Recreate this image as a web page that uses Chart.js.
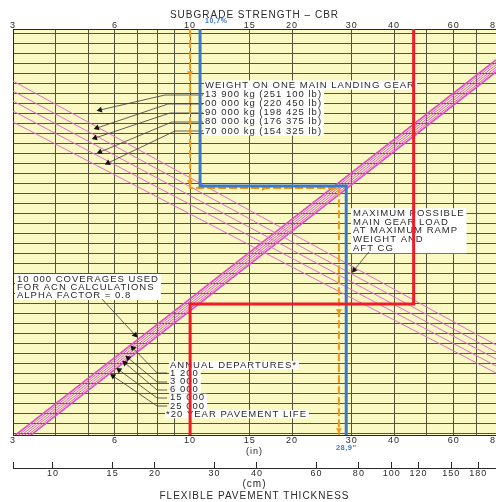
<!DOCTYPE html>
<html>
<head>
<meta charset="utf-8">
<script src="https://cdn.jsdelivr.net/npm/chart.js@4/dist/chart.umd.min.js"></script>
<style>
  html, body { margin: 0; padding: 0; background: #fff; }
  #wrap { width: 496px; height: 502px; }
</style>
</head>
<body>
<div id="wrap"><canvas id="acn" width="496" height="502"></canvas></div>
<script>
// CBR (top) and thickness in inches (bottom) share one log scale
const axisMin = 3, axisMax = 80;
const gridVals = [3, 4, 5, 6, 7, 8, 9, 10, 15, 20, 30, 40, 50, 60, 70, 80];
const labelVals = [3, 6, 10, 15, 20, 30, 40, 60, 80];
const cmTicks = [10, 15, 20, 30, 40, 60, 80, 100, 120, 150, 180];
const yGrid = Array.from({ length: 41 }, (_, i) => i);

// weight on one main landing gear (descending lines), y at x=3 and x=80
const weightLeft = [35.23, 34.23, 33.23, 32.23, 31.13];
const weightRight = [8.83, 8.13, 7.43, 6.73, 6.03];

// coverages / annual departures (ascending lines), y at x=3 and x=80
const departLeft = [-0.37, -0.61, -0.85, -1.09, -1.33, -1.57];
const departRight = [37.33, 37.09, 36.85, 36.61, 36.37, 36.13];

// worked example paths
const blueX = [10.7, 10.7, 28.9, 28.9];
const blueY = [40.43, 24.73, 24.73, -0.3];
const redX = [45.7, 45.7, 10, 10];
const redY = [40.43, 12.93, 12.93, -0.3];
const orangeX = [10, 10, 27.5, 27.5];
const orangeY = [40.43, 24.53, 24.53, -0.17];
const orangeArrowX = [10, 10, 16.5, 26.5, 27.5, 27.5];
const orangeArrowY = [36.03, 25.13, 24.53, 24.53, 12.23, 0.33];
const orangeArrowRot = [180, 180, 90, 90, 180, 180];

// leader lines (label -> curve)
const weightLeaderX = [[10.92, 8.43, 5.42], [10.92, 8.60, 5.31], [10.92, 8.72, 5.24], [10.92, 8.84, 5.42], [10.92, 9.02, 5.72]];
const weightLeaderY = [[33.83, 33.83, 32.33], [32.93, 32.93, 30.53], [32.03, 32.03, 29.53], [31.13, 31.13, 28.13], [30.23, 30.23, 27.03]];
const departLeaderX = [[8.55, 7.99, 6.78], [8.55, 7.99, 6.56], [8.55, 7.99, 6.42], [8.55, 7.99, 6.17], [8.55, 7.99, 5.92]];
const departLeaderY = [[6.03, 6.03, 8.53], [5.13, 5.13, 7.53], [4.33, 4.33, 7.03], [3.53, 3.53, 6.33], [2.73, 2.73, 5.73]];
const coverLeaderX = [5.49, 6.88];
const coverLeaderY = [13.43, 9.83];
const maxLeaderX = [33.7, 30.5];
const maxLeaderY = [18.13, 16.33];

const weightText = ['WEIGHT ON ONE MAIN LANDING GEAR', '13 900 kg (251 100 lb)', '00 000 kg (220 450 lb)',
  '90 000 kg (198 425 lb)', '80 000 kg (176 375 lb)', '70 000 kg (154 325 lb)'];
const maxText = ['MAXIMUM POSSIBLE', 'MAIN GEAR LOAD', 'AT MAXIMUM RAMP', 'WEIGHT AND', 'AFT CG'];
const coverText = ['10 000 COVERAGES USED', 'FOR ACN CALCULATIONS', 'ALPHA FACTOR = 0.8'];
const departText = ['ANNUAL DEPARTURES*', '1 200', '3 000', '6 000', '15 000', '25 000'];

const FONT = "'Liberation Sans', Arial, sans-serif";
const INK = '#2a2a2a';
const GRID = '#55553c';
const PAPER = '#fbf9c3';
const PINK = '#e46ccf';
const MAGENTA = '#e04cc4';
const BLUE = '#3c78c8';
const RED = '#ee1c24';
const ORANGE = '#f0961a';

function line(xs, ys, color, width, extra) {
  return Object.assign({
    data: xs.map((x, i) => ({ x: x, y: ys[i] })),
    showLine: true,
    borderColor: color,
    borderWidth: width,
    pointRadius: 0,
    fill: false,
    tension: 0
  }, extra || {});
}

// point the arrow head along the last segment
function arrowRot(c) {
  const d = c.dataset.data, n = d.length - 1;
  const sx = c.chart.scales.x, sy = c.chart.scales.y;
  const dx = sx.getPixelForValue(d[n].x) - sx.getPixelForValue(d[n - 1].x);
  const dy = sy.getPixelForValue(d[n].y) - sy.getPixelForValue(d[n - 1].y);
  return Math.atan2(dx, -dy) * 180 / Math.PI;
}

function leader(xs, ys) {
  return line(xs, ys, '#3a3a3a', 0.8, {
    order: 5,
    pointRadius: xs.map((_, i) => i === xs.length - 1 ? 3.5 : 0),
    pointStyle: 'triangle',
    pointBackgroundColor: '#111',
    pointBorderColor: '#111',
    pointBorderWidth: 0,
    rotation: arrowRot
  });
}

const datasets = [];
weightLeft.forEach((y0, i) => datasets.push(line([axisMin, axisMax], [y0, weightRight[i]], PINK, 1, { order: 6 })));
departLeft.forEach((y0, i) => {
  const outer = i === 0 || i === departLeft.length - 1;
  datasets.push(line([axisMin, axisMax], [y0, departRight[i]], MAGENTA, outer ? 1.6 : 0.9, { order: 6 }));
});
weightLeaderX.forEach((xs, i) => datasets.push(leader(xs, weightLeaderY[i])));
departLeaderX.forEach((xs, i) => datasets.push(leader(xs, departLeaderY[i])));
datasets.push(leader(coverLeaderX, coverLeaderY));
datasets.push(leader(maxLeaderX, maxLeaderY));
datasets.push(line(orangeX, orangeY, ORANGE, 2, { order: 4, borderDash: [8, 3] }));
datasets.push({
  data: orangeArrowX.map((x, i) => ({ x: x, y: orangeArrowY[i] })),
  showLine: false, order: 4,
  pointStyle: 'triangle', pointRadius: 3.5, rotation: orangeArrowRot,
  pointBackgroundColor: ORANGE, pointBorderColor: ORANGE, pointBorderWidth: 0
});
datasets.push(line(blueX, blueY, BLUE, 3, { order: 3 }));
datasets.push(line(redX, redY, RED, 3, { order: 2 }));

function textBlock(ctx, lines, x, y, lh, oneBox) {
  const widths = lines.map(t => ctx.measureText(t).width);
  const maxW = Math.max.apply(null, widths);
  ctx.fillStyle = '#fff';
  if (oneBox) {
    ctx.fillRect(x - 2, y - lh / 2 - 1, maxW + 4, lh * lines.length + 2);
  } else {
    lines.forEach((t, i) => ctx.fillRect(x - 1, y + i * lh - lh / 2, widths[i] + 3, lh));
  }
  ctx.fillStyle = INK;
  lines.forEach((t, i) => ctx.fillText(t, x, y + i * lh));
}

const notes = {
  id: 'notes',
  beforeDraw(chart) {
    const { ctx, chartArea: a } = chart;
    ctx.letterSpacing = '1px';
    ctx.save();
    ctx.fillStyle = PAPER;
    ctx.fillRect(a.left, a.top, a.right - a.left, a.bottom - a.top);
    ctx.restore();
  },
  beforeDatasetsDraw(chart) {
    const ctx = chart.ctx;
    ctx.save();
    ctx.font = '9.5px ' + FONT;
    ctx.textBaseline = 'middle';
    ctx.textAlign = 'left';
    textBlock(ctx, weightText, 205, 85, 9.2, false);
    textBlock(ctx, maxText, 353, 213.5, 8.6, true);
    textBlock(ctx, coverText, 17, 279, 8, true);
    textBlock(ctx, departText, 170, 365, 8.2, false);
    textBlock(ctx, ['*20 YEAR PAVEMENT LIFE'], 166, 414.2, 8.2, false);
    ctx.restore();
  },
  afterDraw(chart) {
    const ctx = chart.ctx, sx = chart.scales.x;
    ctx.save();
    ctx.fillStyle = BLUE;
    ctx.font = 'bold 7px ' + FONT;
    ctx.letterSpacing = '0.5px';
    ctx.textBaseline = 'middle';
    ctx.textAlign = 'left';
    ctx.fillText('10,7%', sx.getPixelForValue(blueX[0]) + 5, 21);
    ctx.textAlign = 'center';
    ctx.font = 'bold 7.5px ' + FONT;
    ctx.fillText('28,9"', sx.getPixelForValue(blueX[2]), 448);
    ctx.restore();
  }
};

const setTicks = vals => s => { s.ticks = vals.map(v => ({ value: v })); };
const noSidePad = s => { s.paddingLeft = 0; s.paddingRight = 0; };
const tickFont = { family: FONT, size: 9 };
const titleFont = { family: FONT, size: 10 };

new Chart(document.getElementById('acn'), {
  type: 'scatter',
  data: { datasets: datasets },
  plugins: [notes],
  options: {
    responsive: false,
    animation: false,
    events: [],
    layout: { padding: 0, autoPadding: false },
    plugins: { legend: { display: false }, tooltip: { enabled: false } },
    scales: {
      x: {
        type: 'logarithmic', position: 'bottom', weight: 0,
        min: axisMin, max: axisMax,
        afterBuildTicks: setTicks(gridVals),
        afterFit: s => { noSidePad(s); s.height = 33; },
        grid: { color: GRID, lineWidth: 1, drawTicks: false },
        border: { color: INK, width: 1 },
        ticks: {
          autoSkip: false, maxRotation: 0, padding: 0, color: INK, font: tickFont,
          callback: v => labelVals.includes(v) ? String(v) : ''
        },
        title: { display: true, text: '(in)', color: INK, font: tickFont, padding: { top: 0, bottom: 11 } }
      },
      top: {
        type: 'logarithmic', position: 'top',
        min: axisMin, max: axisMax,
        afterBuildTicks: setTicks(labelVals),
        afterFit: s => { noSidePad(s); s.height = 29; },
        grid: { display: false, drawTicks: false },
        border: { color: INK, width: 1 },
        ticks: {
          autoSkip: false, maxRotation: 0, padding: -2, color: INK, font: tickFont,
          callback: v => String(v)
        },
        title: { display: true, text: 'SUBGRADE STRENGTH \u2013 CBR', color: INK, font: titleFont, padding: { top: 9, bottom: 0 } }
      },
      cm: {
        type: 'logarithmic', position: 'bottom', weight: 1,
        min: axisMin * 2.54, max: axisMax * 2.54,
        afterBuildTicks: setTicks([axisMin * 2.54].concat(cmTicks)),
        afterFit: s => { noSidePad(s); s.height = 34; },
        grid: { drawOnChartArea: false, drawTicks: true, tickLength: -6, color: INK, lineWidth: 1 },
        border: { color: INK, width: 1 },
        ticks: {
          autoSkip: false, maxRotation: 0, padding: 6, color: INK, font: tickFont,
          callback: v => cmTicks.includes(v) ? String(v) : ''
        },
        title: {
          display: true, text: ['(cm)', 'FLEXIBLE PAVEMENT THICKNESS'], color: INK, font: titleFont,
          padding: { top: 0, bottom: 0 }
        }
      },
      y: {
        type: 'linear', position: 'left',
        min: -0.17, max: 40.43,
        afterBuildTicks: setTicks(yGrid),
        afterFit: s => { s.width = 13; s.paddingTop = 0; s.paddingBottom = 0; },
        ticks: { display: false },
        grid: { color: GRID, lineWidth: 1, drawTicks: false },
        border: { color: INK, width: 1 }
      }
    }
  }
});
</script>
</body>
</html>
